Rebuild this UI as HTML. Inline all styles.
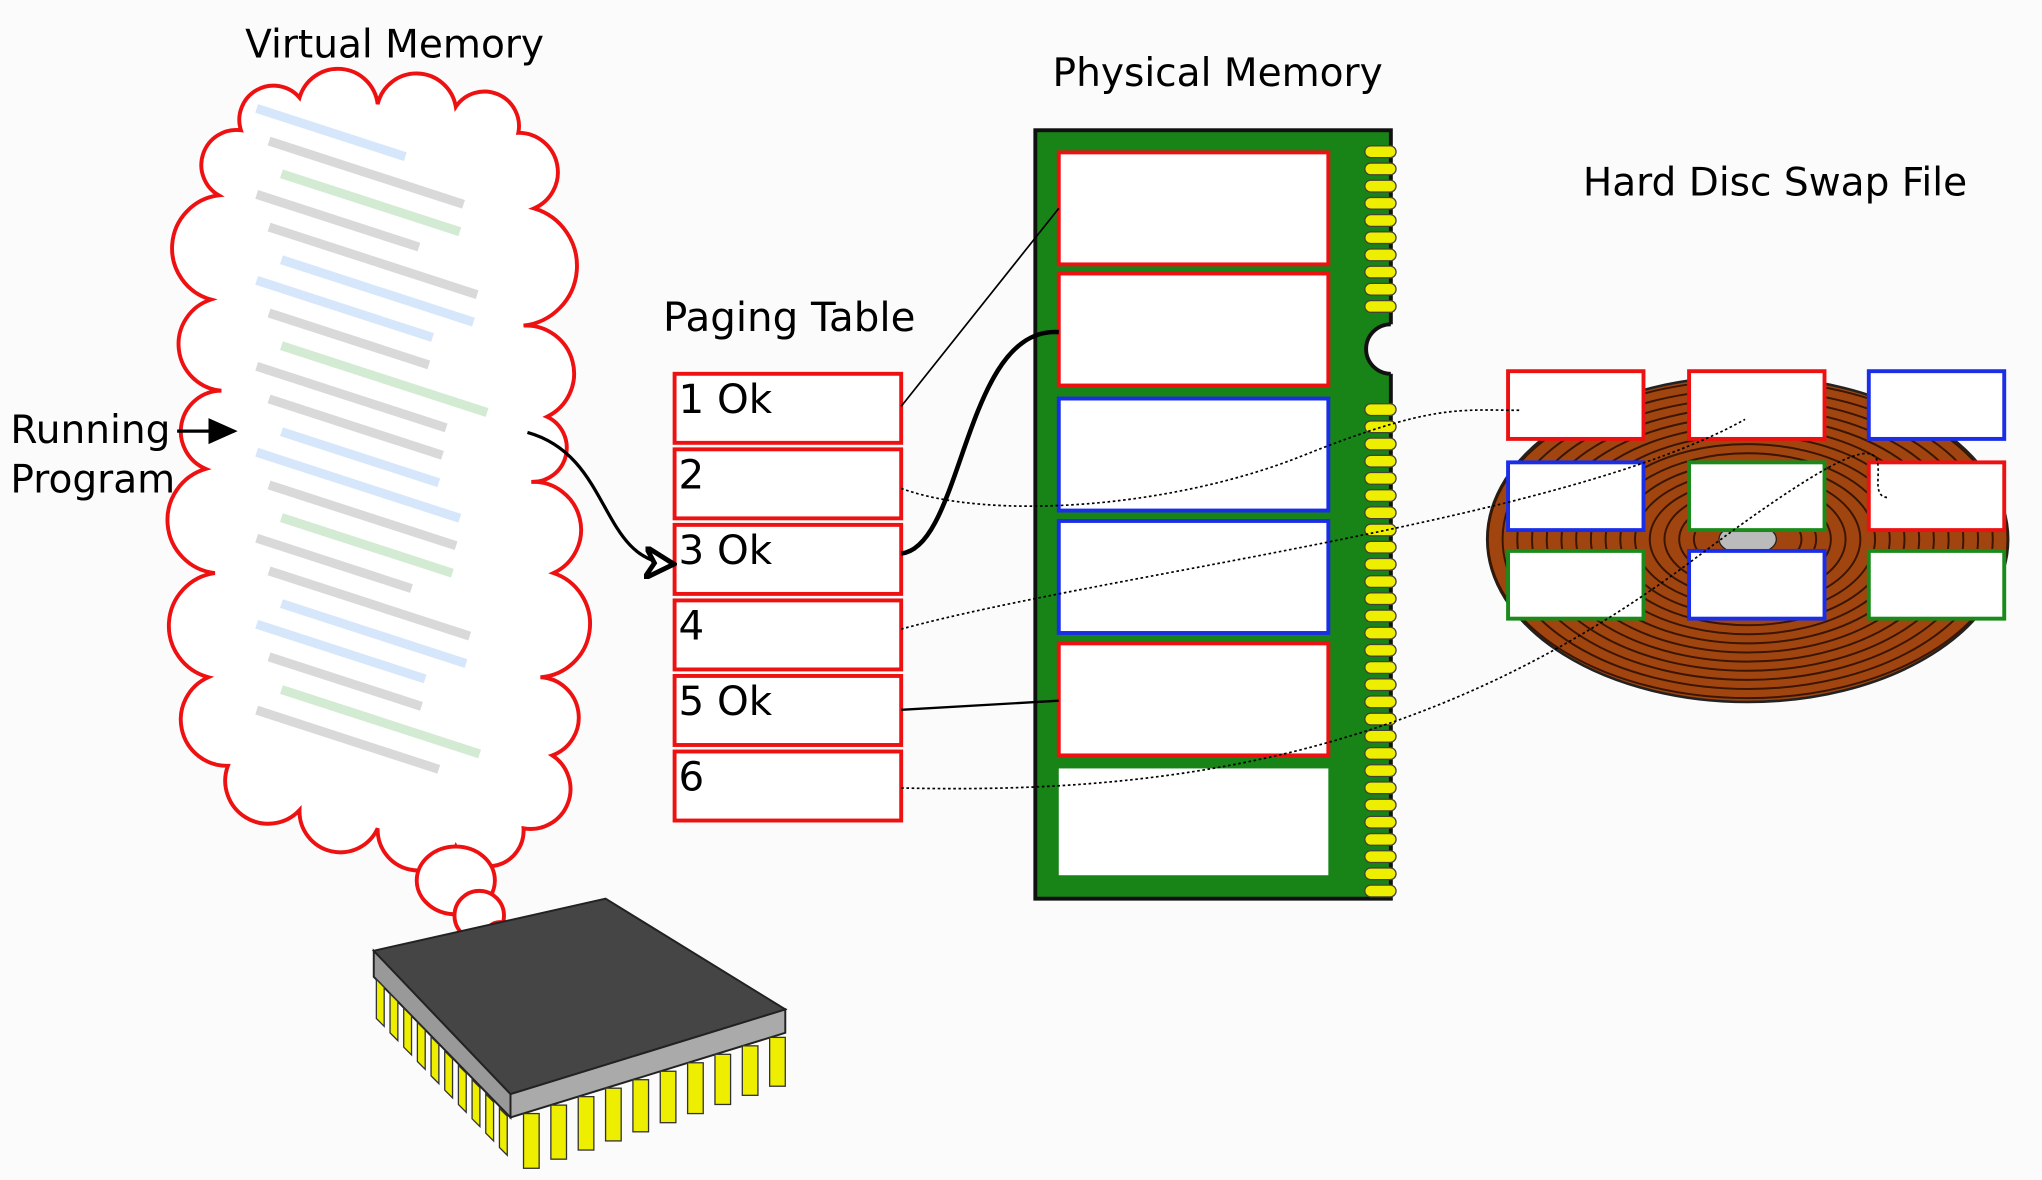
<!DOCTYPE html>
<html><head><meta charset="utf-8"><style>
html,body{margin:0;padding:0;background:#fff;}
svg{display:block;}
text{font-family:"DejaVu Sans","Liberation Sans",sans-serif;}
</style></head><body>
<svg id="s" width="2042" height="1180" viewBox="0 0 1568 906" preserveAspectRatio="none" xmlns="http://www.w3.org/2000/svg">
<rect width="1568" height="906" fill="#fbfbfb"/>
<defs><marker id="ah" markerWidth="10" markerHeight="10" refX="8" refY="5" orient="auto"><path d="M0,0 L9,5 L0,10 L3,5 Z" fill="#fff" stroke="#000" stroke-width="1.5"/></marker>
<marker id="ah2" markerWidth="10" markerHeight="10" refX="8" refY="5" orient="auto"><path d="M0,1 L9,5 L0,9 Z" fill="#000"/></marker></defs>

<g id="cloud"></g>
<g>
<ellipse cx="350" cy="676" rx="30" ry="26" fill="#fff" stroke="#e11" stroke-width="3"/>
<circle cx="368" cy="703" r="19" fill="#fff" stroke="#e11" stroke-width="3"/>
<circle cx="384" cy="720" r="12" fill="#fff" stroke="#e11" stroke-width="3"/>
</g>
<g id="code" opacity="0.22"></g>

<text x="303" y="44" font-size="30" text-anchor="middle">Virtual Memory</text>
<text x="935" y="66" font-size="30" text-anchor="middle">Physical Memory</text>
<text x="1363" y="150" font-size="30" text-anchor="middle">Hard Disc Swap File</text>
<text x="606" y="254" font-size="31" text-anchor="middle">Paging Table</text>
<text x="8" y="340" font-size="30">Running</text>
<text x="8" y="378" font-size="30">Program</text>
<line x1="136" y1="331" x2="180" y2="331" stroke="#000" stroke-width="2.5" marker-end="url(#ah2)"/>

<g id="chip">
<polygon points="287,750 392,858 392,840 287,730" fill="#999" stroke="#222" stroke-width="1.5"/>
<polygon points="392,858 603,793 603,775 392,840" fill="#aaa" stroke="#222" stroke-width="1.5"/>
<polygon points="287,730 465,690 603,775 392,840" fill="#454545" stroke="#222" stroke-width="1.5"/>
</g>

<g id="pt"></g>

<g>
<rect x="795" y="100" width="273" height="590" fill="#188418" stroke="#111" stroke-width="3"/>
<rect x="1067" y="249" width="6" height="38" fill="#fbfbfb"/>
<path d="M1068,249 A19,19 0 0 0 1068,287" fill="#fbfbfb" stroke="#111" stroke-width="3"/>
<g id="rampins"></g>
</g>
<g id="slots"></g>

<g>
<ellipse cx="1342" cy="414" rx="200" ry="125" fill="#a04510" stroke="#222" stroke-width="2"/>
<g id="rings" fill="none" stroke="#3a1500" stroke-width="1.5"></g>
<ellipse cx="1342" cy="414" rx="22" ry="12" fill="#bbb" stroke="#222"/>
</g>
<g id="disk"></g>

<g fill="none" stroke="#000">
<path d="M692,312 L813,160" stroke-width="1.3"/>
<path d="M692,425 C740,420 740,250 813,255" stroke-width="3.5"/>
<path d="M692,545 L813,538" stroke-width="1.8"/>
<path d="M692,375 C760,400 900,390 1000,350 S1120,315 1168,315" stroke-width="1.3" stroke-dasharray="2,2"/>
<path d="M692,483 C850,440 1200,400 1340,322" stroke-width="1.3" stroke-dasharray="2,2"/>
<path d="M692,605 C900,610 1100,580 1300,430 S1420,382 1450,382" stroke-width="1.3" stroke-dasharray="2,2"/>
<path d="M405,332 C470,350 460,430 515,433" stroke-width="2.5" marker-end="url(#ah)"/>
</g>
</svg>
<script>
const NS="http://www.w3.org/2000/svg";
function mk(p,t,a){const e=document.createElementNS(NS,t);for(const k in a)e.setAttribute(k,a[k]);p.appendChild(e);return e;}
const pts=[[185,100],[230,75],[290,80],[350,82],[398,102],[410,160],[402,250],[420,320],[408,370],[425,440],[415,520],[424,580],[402,636],[350,650],[290,636],[230,622],[175,588],[160,520],[165,440],[158,360],[170,300],[162,230],[168,150]];
let d="M"+pts[0];
for(let i=1;i<=pts.length;i++){const a=pts[i-1],b=pts[i%pts.length];const r=Math.hypot(b[0]-a[0],b[1]-a[1])*0.51;d+=` A${r},${r} 0 0 1 ${b[0]},${b[1]}`;}
mk(document.getElementById('cloud'),'path',{d:d+"Z",fill:"#fff",stroke:"#e11","stroke-width":3});
const code=document.getElementById('code');
const cols=["#4a8ff0","#555","#3aa13a","#555","#555","#4a8ff0"];
for(let i=0;i<22;i++){const y=100+i*22;mk(code,'rect',{x:195+(i%3)*10,y:y,width:120+(i*37)%50,height:7,fill:cols[i%6],transform:`rotate(18 ${260} ${y})`});}
const chip=document.getElementById('chip');
for(let i=0;i<10;i++){const x=289+i*10.5,y=752+i*11;mk(chip,'polygon',{points:`${x},${y} ${x+6},${y+6} ${x+6},${y+36} ${x},${y+30}`,fill:"#ee0",stroke:"#333","stroke-width":1});}
for(let i=0;i<10;i++){const x=402+i*21,y=855-i*6.5;mk(chip,'rect',{x:x,y:y,width:12,height:42-i*0.5,fill:"#ee0",stroke:"#333","stroke-width":1});}
const pt=document.getElementById('pt');const lab=["1 Ok","2","3 Ok","4","5 Ok","6"];
lab.forEach((l,i)=>{const y=287+i*58;const r=mk(pt,'rect',{x:518,y:y,width:174,height:53,fill:"#fff",stroke:"#e11","stroke-width":3});

const t=mk(pt,'text',{x:521,y:y+30,"font-size":31});t.textContent=l;});
const rp=document.getElementById('rampins');
for(let y=112;y<680;y+=13.2){if(y>232&&y<300)continue;mk(rp,'rect',{x:1048,y:y,width:24,height:9,rx:4.5,fill:"#ee0",stroke:"#443","stroke-width":1});}
const slots=document.getElementById('slots');
[[117,"#e11"],[210,"#e11"],[306,"#1a2ee8"],[400,"#1a2ee8"],[494,"#e11"],[590,"none"]].forEach((s,i)=>{
const r=mk(slots,'rect',{x:813,y:s[0],width:207,height:s[1]=="none"?82:86,fill:"#fff",stroke:s[1],"stroke-width":3});
});
const rings=document.getElementById('rings');
for(let k=1;k<16;k++)mk(rings,'ellipse',{cx:1342,cy:414,rx:30+k*11.3,ry:17+k*7});
const disk=document.getElementById('disk');
const dc=[["#e11","#e11","#1a2ee8"],["#1a2ee8","#1a8a1a","#e11"],["#1a8a1a","#1a2ee8","#1a8a1a"]];
const ys=[285,355,423],xs=[1158,1297,1435];
dc.forEach((row,r)=>row.forEach((c,j)=>{const e=mk(disk,'rect',{x:xs[j],y:ys[r],width:104,height:52,fill:"#fff",stroke:c,"stroke-width":3});
}));
</script>
</body></html>
